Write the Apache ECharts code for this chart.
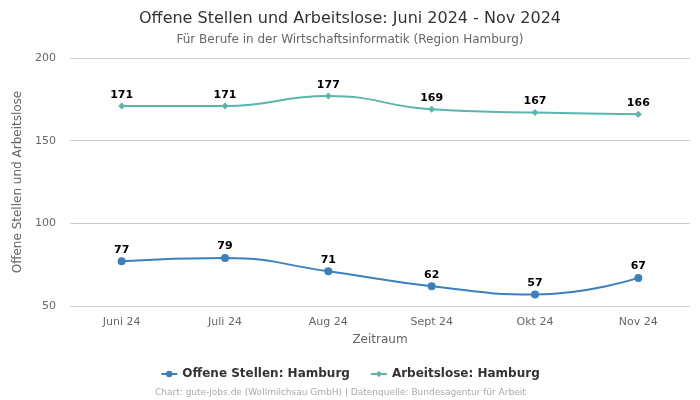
<!DOCTYPE html>
<html><head><meta charset="utf-8">
<script src="https://cdn.jsdelivr.net/npm/echarts@6/dist/echarts.min.js"></script>
<style>html,body{margin:0;padding:0;background:#fff}#c{width:700px;height:400px}</style>
</head><body><div id="c"></div>
<script>
const categories = ["Juni 24","Juli 24","Aug 24","Sept 24","Okt 24","Nov 24"];
const offeneStellen = [77,79,71,62,57,67];
const arbeitslose = [171,171,177,169,167,166];
const seriesNames = ["Offene Stellen: Hamburg","Arbeitslose: Hamburg"];
const F = "DejaVu Sans";
const chart = echarts.init(document.getElementById('c'));
chart.setOption({
  animation:false,
  textStyle:{fontFamily:F},
  title:{text:"Offene Stellen und Arbeitslose: Juni 2024 - Nov 2024",
    subtext:"Für Berufe in der Wirtschaftsinformatik (Region Hamburg)",
    left:"center", top:6, itemGap:7,
    textStyle:{fontFamily:F,fontSize:16,fontWeight:"normal",color:"#333"},
    subtextStyle:{fontFamily:F,fontSize:12,color:"#666"}},
  legend:{bottom:15,left:"center",itemGap:20,itemWidth:16,itemHeight:8,
    textStyle:{fontFamily:F,fontSize:12,fontWeight:"bold",color:"#333"},
    data:seriesNames},
  graphic:[{type:"text",left:155,bottom:3,
    style:{text:"Chart: gute-jobs.de (Wollmilchsau GmbH) | Datenquelle: Bundesagentur für Arbeit",
    fill:"#aaa",font:"9px DejaVu Sans"}}],
  grid:{left:70,right:10,top:58,bottom:94},
  xAxis:{type:"category",data:categories,boundaryGap:true,
    name:"Zeitraum",nameLocation:"middle",nameGap:28,
    nameTextStyle:{fontFamily:F,fontSize:12,color:"#666"},
    axisLine:{show:false},axisTick:{show:false},
    axisLabel:{fontFamily:F,fontSize:11,color:"#666",margin:11}},
  yAxis:{type:"value",min:50,max:200,interval:50,
    name:"Offene Stellen und Arbeitslose",nameLocation:"middle",nameGap:37,
    nameTextStyle:{fontFamily:F,fontSize:12,color:"#666"},
    axisLine:{show:false},axisTick:{show:false},
    axisLabel:{fontFamily:F,fontSize:11,color:"#666",margin:14},
    splitLine:{lineStyle:{color:"#ccc"}}},
  series:[
    {name:seriesNames[0],type:"line",smooth:true,data:offeneStellen,
     symbol:"circle",symbolSize:8,color:"#3a80bf",lineStyle:{width:2},
     label:{show:true,position:"top",distance:2,fontFamily:F,fontSize:11,fontWeight:"bold",color:"#000"}},
    {name:seriesNames[1],type:"line",smooth:true,data:arbeitslose,
     symbol:"diamond",symbolSize:7,color:"#5ab5ad",lineStyle:{width:2},
     label:{show:true,position:"top",distance:2,fontFamily:F,fontSize:11,fontWeight:"bold",color:"#000"}}
  ]
});
</script></body></html>
